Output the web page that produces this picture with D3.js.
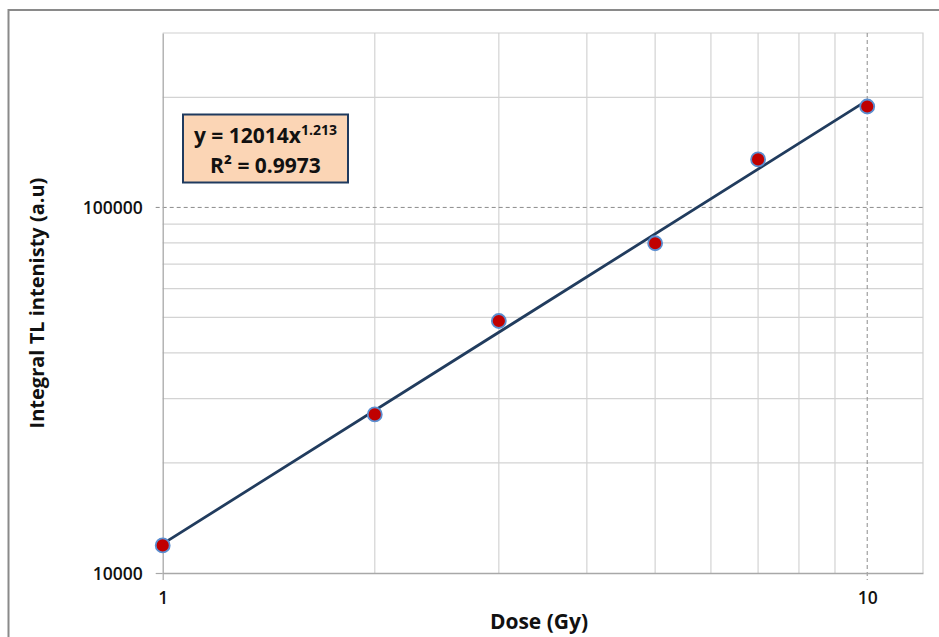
<!DOCTYPE html>
<html>
<head>
<meta charset="utf-8">
<script src="https://cdn.jsdelivr.net/npm/d3@7"></script>
<style>
  html, body { margin: 0; padding: 0; background: #fff; }
  svg { display: block; }
  text { font-family: "Open Sans", "Liberation Sans", sans-serif; fill: #111; }
</style>
</head>
<body>
<svg id="chart" width="939" height="637"></svg>
<script>
// Dose (Gy) and integral TL intensity readings
const doses = [1, 2, 3, 5, 7, 10];
const intensities = [11900, 27150, 48900, 79800, 135300, 188800];

// Power-law trendline  y = a * x^b
const fitCoef = 12014;
const fitExp = 1.213;
const fitR2 = 0.9973;

const xTickValues = [1, 10];
const yTickValues = [10000, 100000];
const xGridValues = [2, 3, 4, 5, 6, 7, 8, 9];
const yGridValues = [20000, 30000, 40000, 50000, 60000, 70000, 80000, 90000, 200000];

const svg = d3.select("#chart");
const plot = { left: 162.7, top: 33, right: 923, bottom: 573 };

const x = d3.scaleLog().domain([1, 12]).range([plot.left, plot.right]);
const y = d3.scaleLog().domain([10000, 300000]).range([plot.bottom, plot.top]);

// outer chart frame (runs off the right and bottom edges)
svg.append("rect")
  .attr("x", 8.5).attr("y", 10).attr("width", 1200).attr("height", 1200)
  .attr("fill", "none").attr("stroke", "#8a8a8a").attr("stroke-width", 2);

const g = svg.append("g");

// minor gridlines
g.append("g").selectAll("line").data(xGridValues).join("line")
  .attr("x1", d => x(d)).attr("x2", d => x(d))
  .attr("y1", plot.top).attr("y2", plot.bottom)
  .attr("stroke", "#d3d3d3").attr("stroke-width", 1.2);
g.append("g").selectAll("line").data(yGridValues).join("line")
  .attr("y1", d => y(d)).attr("y2", d => y(d))
  .attr("x1", plot.left).attr("x2", plot.right)
  .attr("stroke", "#d3d3d3").attr("stroke-width", 1.2);

// plot frame (top and right)
g.append("path")
  .attr("d", `M${plot.left},${plot.top}H${plot.right}V${plot.bottom}`)
  .attr("fill", "none").attr("stroke", "#d0d0d0").attr("stroke-width", 1.2);

// major dashed gridlines
g.append("line")
  .attr("x1", x(10)).attr("x2", x(10)).attr("y1", plot.top).attr("y2", plot.bottom + 7)
  .attr("stroke", "#8c8c8c").attr("stroke-width", 1).attr("stroke-dasharray", "4,3");
g.append("line")
  .attr("y1", y(100000)).attr("y2", y(100000)).attr("x1", plot.left - 7).attr("x2", plot.right)
  .attr("stroke", "#8c8c8c").attr("stroke-width", 1).attr("stroke-dasharray", "4,3");

// axes
const xAxis = d3.axisBottom(x).tickValues(xTickValues).tickFormat(d3.format("d"))
  .tickSizeInner(7).tickSizeOuter(0).tickPadding(12);
const yAxis = d3.axisLeft(y).tickValues(yTickValues).tickFormat(d3.format("d"))
  .tickSizeInner(7).tickSizeOuter(0).tickPadding(13);

const gx = g.append("g").attr("transform", `translate(0,${plot.bottom})`).call(xAxis);
const gy = g.append("g").attr("transform", `translate(${plot.left},0)`).call(yAxis);
[gx, gy].forEach(a => {
  a.select(".domain").attr("stroke", "#a8a8a8").attr("stroke-width", 1.3);
  a.selectAll(".tick line").attr("stroke", "#a8a8a8").attr("stroke-width", 1.2);
  a.selectAll(".tick text")
    .style("font-family", "'Open Sans', sans-serif")
    .style("font-size", "17.5px").style("font-weight", "600").attr("fill", "#111");
});
gx.selectAll(".tick line").filter(d => d === 10).remove();
gy.selectAll(".tick line").filter(d => d === 100000).remove();
gy.selectAll(".tick text").attr("dy", "0.36em");

// trendline
const fit = d => fitCoef * Math.pow(d, fitExp);
g.append("line")
  .attr("x1", x(doses[0])).attr("y1", y(fit(doses[0])))
  .attr("x2", x(doses[doses.length - 1])).attr("y2", y(fit(doses[doses.length - 1])))
  .attr("stroke", "#213c5e").attr("stroke-width", 2.8).attr("stroke-linecap", "round");

// data markers
g.append("g").selectAll("circle").data(doses.map((d, i) => [d, intensities[i]])).join("circle")
  .attr("cx", d => x(d[0])).attr("cy", d => y(d[1])).attr("r", 7)
  .attr("fill", "#c00000").attr("stroke", "#5b8ed0").attr("stroke-width", 1.8);

// equation box
const box = g.append("g").attr("transform", "translate(183,114.5)");
box.append("rect").attr("width", 165).attr("height", 68)
  .attr("fill", "#fbd5b5").attr("stroke", "#1f3a5f").attr("stroke-width", 2);
const eq = box.append("text").attr("x", 82.5).attr("y", 28).attr("text-anchor", "middle")
  .style("font-size", "21px").style("font-weight", "700");
eq.append("tspan").text(`y = ${fitCoef}x`);
eq.append("tspan").attr("dy", "-8").style("font-size", "14px").text(fitExp.toFixed(3));
box.append("text").attr("x", 82.5).attr("y", 58).attr("text-anchor", "middle")
  .style("font-size", "21px").style("font-weight", "700")
  .text(`R² = ${fitR2.toFixed(4)}`);

// axis titles
svg.append("text")
  .attr("x", 539).attr("y", 629)
  .attr("text-anchor", "middle")
  .style("font-size", "21px").style("font-weight", "700")
  .text("Dose (Gy)");
svg.append("text")
  .attr("transform", `translate(44,${(plot.top + plot.bottom) / 2}) rotate(-90)`)
  .attr("text-anchor", "middle")
  .style("font-size", "20px").style("font-weight", "700")
  .text("Integral TL intenisty (a.u)");
</script>
</body>
</html>
